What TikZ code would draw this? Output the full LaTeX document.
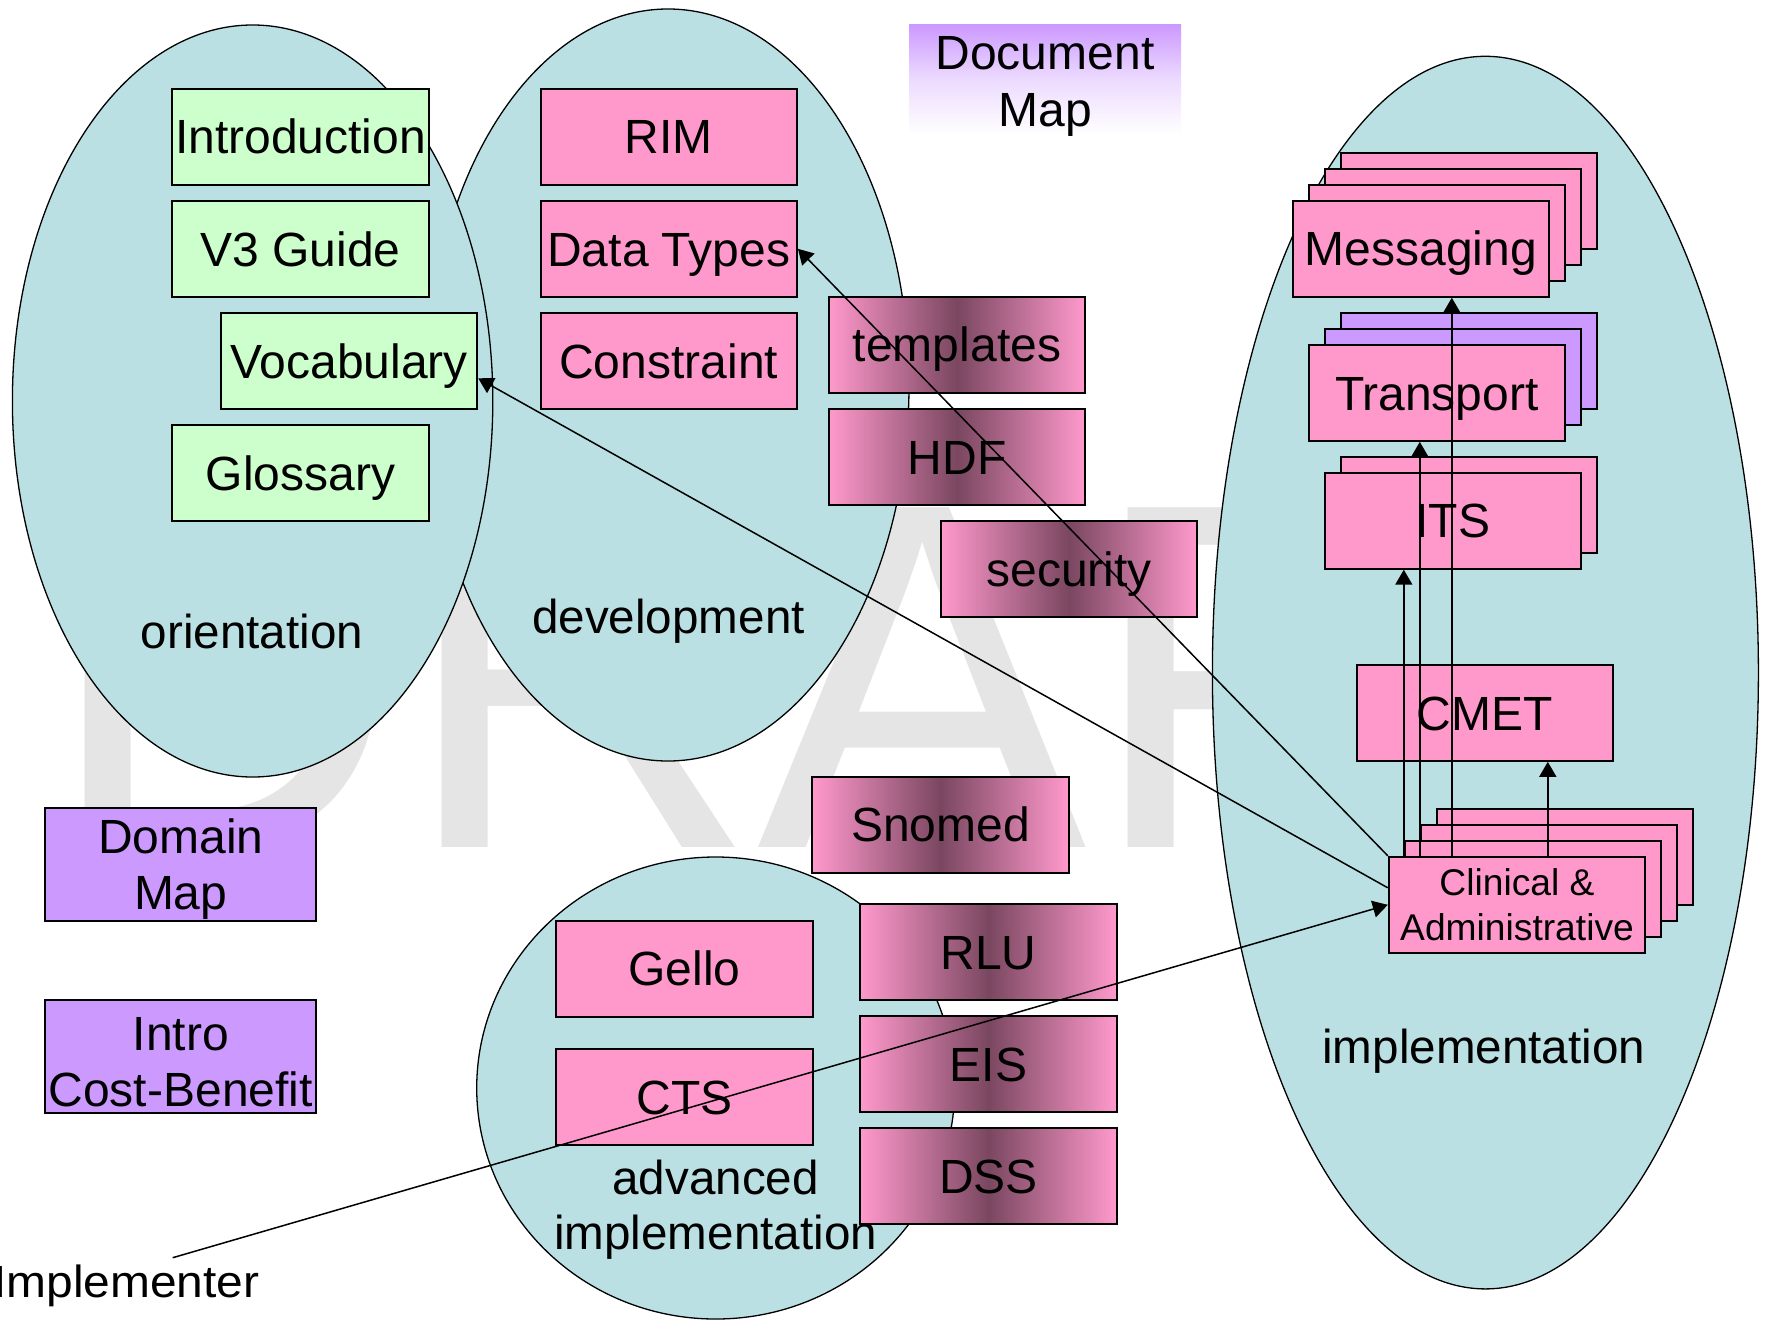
\documentclass[tikz,border=0pt]{standalone}
\usepackage{fontspec}
\setmainfont{Liberation Sans}
\usetikzlibrary{arrows.meta,calc,shapes.geometric}
\definecolor{tl}{HTML}{BBE0E3}
\definecolor{gr}{HTML}{CCFFCC}
\definecolor{pk}{HTML}{FF99CC}
\definecolor{pu}{HTML}{CC99FF}
\definecolor{dk}{HTML}{7A4760}
\definecolor{wm}{HTML}{E5E5E5}
\begin{document}
\begin{tikzpicture}[x=0.5pt,y=-0.5pt,
  ell/.style={ellipse, draw=black, fill=tl, line width=0.65pt, inner sep=0pt},
  box/.style={draw=black, line width=1pt, minimum width=128.2pt, minimum height=48pt, inner sep=0pt, align=center, font=\fontsize{24}{28}\selectfont},
  sl/.style={text height=17.2pt, text depth=0pt},
  gbox/.style={box, sl, fill=gr},
  pbox/.style={box, sl, fill=pk},
  ubox/.style={box, fill=pu},
  sbox/.style={box, sl, left color=pk, right color=pk, middle color=dk},
  lbl/.style={inner sep=0pt, align=center, font=\fontsize{23.8}{27.7}\selectfont},
  arr/.style={-{Triangle[length=7.5pt,width=8.5pt]}, line width=0.75pt}
]
\useasboundingbox (0,0) rectangle (1765,1322);
% watermark
\node[anchor=base west, inner sep=0pt, text=wm, font=\fontsize{247}{247}\selectfont] (draft) at (44,847) {DRAFT};
% ellipses
\node[ell, minimum width=241pt, minimum height=376pt] (devel) at (668,385) {};
\node[ell, minimum width=240.2pt, minimum height=376pt] (orient) at (252.6,401) {};
\node[ell, minimum width=239pt, minimum height=231pt] (advim) at (715.7,1088) {};
\node[ell, minimum width=273pt, minimum height=616.3pt] (implm) at (1485.4,672.6) {};
% orientation boxes
\node[gbox] (intro) at (300.6,136.8) {Introduction};
\node[gbox] (vguide) at (300.6,248.8) {V3 Guide};
\node[gbox] (voc) at (349,360.8) {Vocabulary};
\node[gbox] (gloss) at (300.6,472.8) {Glossary};
% development boxes
\node[pbox] (rim) at (668.7,136.8) {RIM};
\node[pbox] (dt) at (668.7,248.8) {Data Types};
\node[pbox] (constr) at (668.7,360.8) {Constraint};
% shaded boxes
\node[sbox] (templ) at (957,344.7) {templates};
\node[sbox] (hdf) at (957,457) {HDF};
\node[sbox] (secur) at (1069,569) {security};
\node[sbox] (snomed) at (940.5,824.5) {Snomed};
\node[sbox] (rlu) at (988.4,952) {RLU};
\node[sbox] (eis) at (988.4,1064) {EIS};
\node[sbox] (dss) at (988.4,1176) {DSS};
% advanced boxes
\node[pbox] (gello) at (684.4,968.7) {Gello};
\node[pbox] (cts) at (684.4,1096.8) {CTS};
% purple boxes
\node[ubox, minimum width=135.7pt, minimum height=56.2pt] (dmap) at (180.7,864.5) {\rule{0pt}{21.8pt}Domain\\Map};
\node[ubox, minimum width=135.7pt, minimum height=56.2pt] (icb) at (180.7,1056.5) {\rule{0pt}{21.8pt}Intro\\Cost-Benefit};
% document map
\node[minimum width=136pt, minimum height=55pt, inner sep=0pt, top color=pu, bottom color=white, middle color=pu!35] (docmap) at (1045,80) {};
\node[inner sep=0pt, align=center, anchor=north, font=\fontsize{24}{28.8}\selectfont] (docmaptxt) at (1045,35.6) {Document\\Map};
% messaging stack
\node[pbox] (msg3) at (1468.8,200.7) {};
\node[pbox] (msg2) at (1452.8,216.7) {};
\node[pbox] (msg1) at (1436.8,232.7) {};
\node[pbox] (msg) at (1420.8,248.7) {Messaging};
% transport stack
\node[ubox] (trn2) at (1468.8,360.8) {};
\node[ubox] (trn1) at (1452.8,376.8) {};
\node[pbox] (trn) at (1436.8,392.8) {Transport};
% ITS stack
\node[pbox] (its1) at (1468.8,504.7) {};
\node[pbox] (its) at (1452.8,520.7) {ITS};
% CMET
\node[pbox] (cmet) at (1484.7,712.8) {CMET};
% clinical stack
\node[pbox] (clin3) at (1565,856.8) {};
\node[pbox] (clin2) at (1549,872.8) {};
\node[pbox] (clin1) at (1533,888.8) {};
\node[box, fill=pk, font=\fontsize{18.6}{22.5}\selectfont] (clin) at (1517,904.8) {Clinical \&\\Administrative};
% ellipse labels
\node[lbl, anchor=base] (olbl) at (252,648) {orientation};
\node[lbl, anchor=base] (dlbl) at (668.5,633) {development};
\node[lbl, anchor=north] (albl) at (715.6,1159.5) {advanced\\implementation};
\node[lbl, anchor=base] (ilbl) at (1483.7,1063.8) {implementation};
% implementer
\node[anchor=base east, inner sep=0pt, font=\fontsize{22.5}{27}\selectfont] (implementer) at (260,1297) {\scalebox{1.065}[1]{Implementer}};
\coordinate (impstart) at (172.7,1257.7);
% connectors
\coordinate (c1) at ($(clin.north west)+(16,0)$);
\coordinate (c2) at ($(clin.north west)+(32,0)$);
\coordinate (c3) at ($(clin.north west)+(64,0)$);
\coordinate (c4) at ($(clin.north west)+(160,0)$);
\draw[arr] (c1) -- (c1 |- its.south);
\draw[arr] (c2) -- (c2 |- trn.south);
\draw[arr] (c3) -- (c3 |- msg.south);
\draw[arr] (c4) -- (c4 |- cmet.south);
\draw[arr] (clin.north west) -- (dt.east);
\draw[arr] ([yshift=8.5pt]clin.west) -- ([yshift=-8.75pt]voc.east);
\draw[arr] (impstart) -- (clin.west);
\end{tikzpicture}
\end{document}
